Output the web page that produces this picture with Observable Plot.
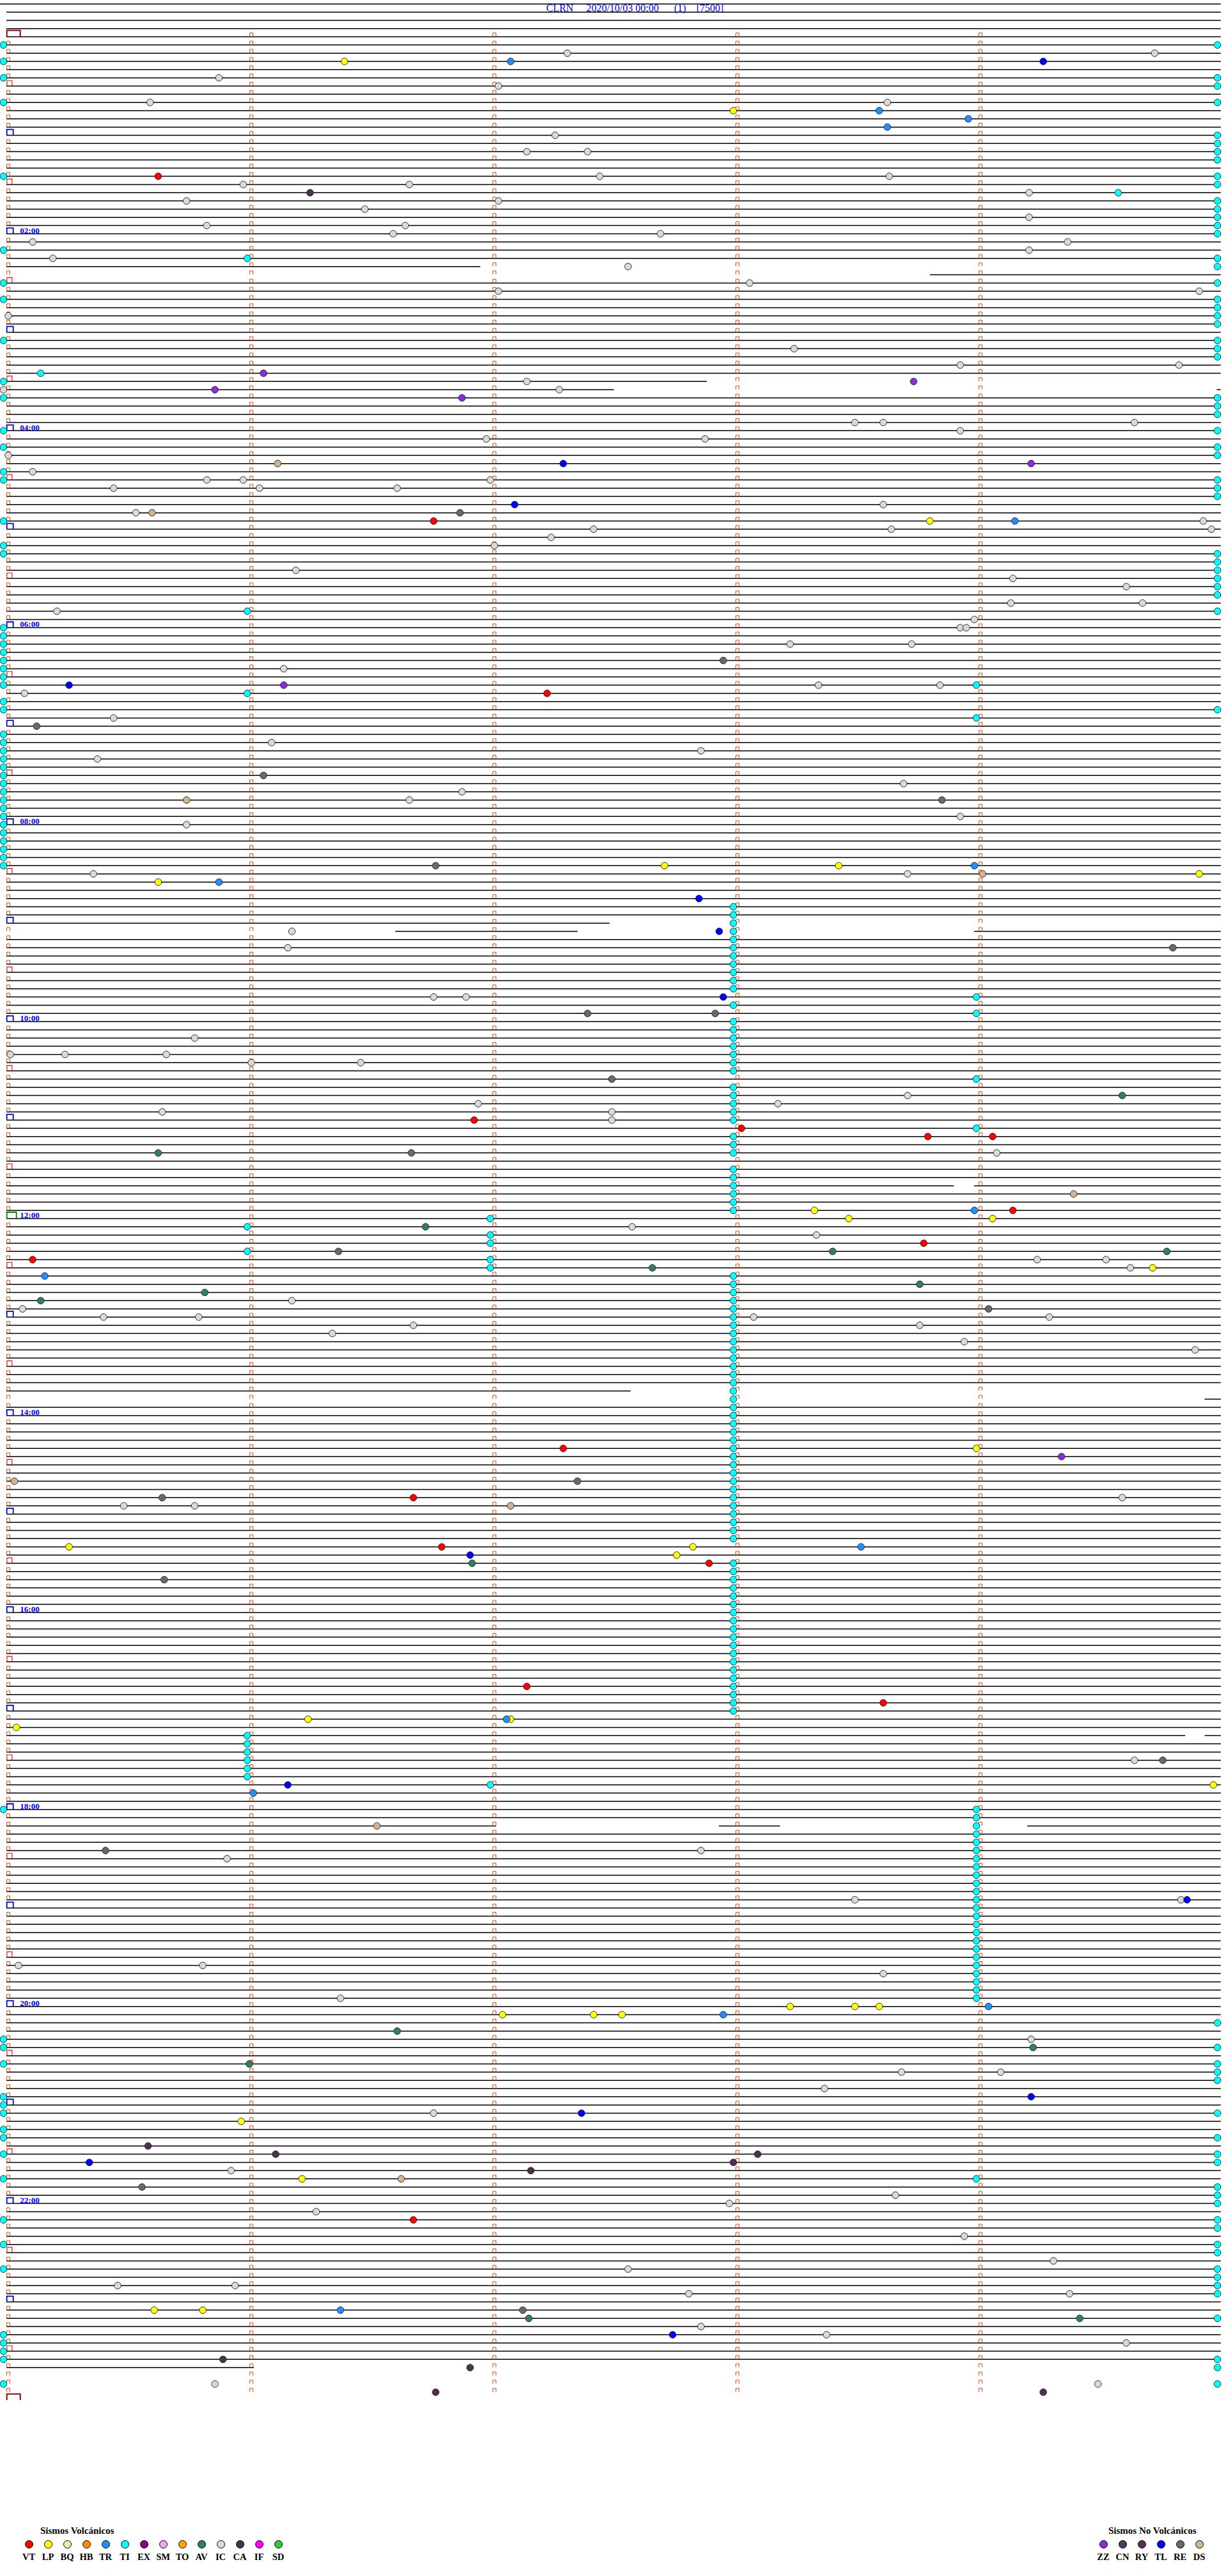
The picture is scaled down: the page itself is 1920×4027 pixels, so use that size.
<!DOCTYPE html>
<html>
<head>
<meta charset="utf-8">
<script src="https://cdn.jsdelivr.net/npm/d3@7"></script>
<script src="https://cdn.jsdelivr.net/npm/@observablehq/plot@0.6"></script>
<style>
  body { margin: 0; background: #fff; }
  #page { position: relative; width: 1920px; height: 4027px; overflow: hidden; font-family: "Liberation Serif", "Times New Roman", serif; }
  #chart { position: absolute; left: 0; top: 0; }
  #title { position: absolute; left: 854px; top: 5px; font-size: 16px; line-height: 16px; color: #0000ff; white-space: pre; }
  .lg-title { position: absolute; font-size: 15px; line-height: 15px; font-weight: bold; color: #000; white-space: pre; }
  .lg-dot { position: absolute; width: 11px; height: 11px; border: 1px solid #000; border-radius: 50%; box-sizing: content-box; }
  .lg-lab { position: absolute; width: 30px; text-align: center; font-size: 14.5px; line-height: 15px; font-weight: bold; color: #000; }
</style>
</head>
<body>
<div id="page">
  <div id="chart"></div>
  <div id="title"></div>
  <div id="legend"></div>
</div>
<script>
// ---------------- header ----------------
const stationName = "CLRN";
const startLabel = "2020/10/03 00:00";
const runLabel = "(1)";
const gainLabel = "[7500]";

// ---------------- helicorder layout data ----------------
// each trace row = 5 minutes (0..300 s); 288 rows for the day, 4 empty rows above
const minuteTicks = [0, 60, 120, 180, 240];
const hourLabels = ["02:00","04:00","06:00","08:00","10:00","12:00","14:00","16:00","18:00","20:00","22:00"];
const hourLabelRows = [24, 48, 72, 96, 120, 144, 168, 192, 216, 240, 264];

// partial traces: [row, start s, end s]
const partialTraces = [
  [28, -0.4, 116.6], [29, 227.6, 299.4], [42, -0.4, 172.5], [43, -0.4, 149.6], [43, 298.4, 299.4],
  [108, -0.4, 148.5], [109, 95.6, 140.6], [109, 238.5, 299.4], [140, -0.4, 233.5], [140, 238.5, 299.4],
  [165, -0.4, 153.7], [166, 295.4, 299.4], [207, -0.4, 290.6], [207, 295.4, 299.4],
  [218, -0.4, 120.5], [218, 175.5, 190.6], [218, 251.6, 299.4], [284, -0.4, 60.7]
];
const emptyTraces = [285, 286, 287];

// ---------------- event categories ----------------
const volcanicCodes  = ["VT","LP","BQ","HB","TR","TI","EX","SM","TO","AV","IC","CA","IF","SD"];
const volcanicColors = ["#ff0000","#ffff00","#eee8aa","#ff8c00","#1e90ff","#00ffff","#8b008b","#eeaaee","#ffa500","#2e8060","#d9d9d9","#4d3050","#ff00ff","#32cd32"];
const nonVolcanicCodes  = ["ZZ","CN","RY","TL","RE","DS"];
const nonVolcanicColors = ["#8a2be2","#4d3a5e","#553355","#0000ff","#696969","#d2b48c"];

// ---------------- events: [row, seconds into the 5-min trace] ----------------
const VT = [[17,37],[59,105],[80,133],[132,115],[133,181],[134,227],[134,243],[143,248],[147,226],[149,6],[172,137],[178,100],[184,107],[186,173],[201,128],[203,216],[266,100]];
const LP = [[3,83],[9,179],[59,227.5],[101,162],[101,205],[102,294],[103,37],[143,199],[144,207.5],[144,243],[150,282.5],[172,239],[184,15],[184,169],[185,165],[205,74],[205,124],[206,2],[213,297.5],[240,193],[240,209],[240,215],[241,122],[241,144.5],[241,151.5],[254,57.5],[261,72.5],[277,36],[277,48]];
const TR = [[3,124],[9,215],[10,237],[11,217],[59,248.5],[101,238.5],[103,52],[143,238.5],[151,9],[184,210.5],[205,123],[214,60.5],[240,242],[241,176.5],[277,82]];
// TI (cyan) rows grouped by position in the trace
const tiAtStartRows = [1,3,5,8,17,26,30,32,37,42,44,48,50,53,54,59,62,63,72,73,74,75,76,77,78,79,81,82,85,86,87,88,89,90,91,92,93,94,95,96,97,98,99,100,101,216,244,245,247,251,252,253,255,256,258,261,266,269,272,280,281,282,283,286];
const tiAtEndRows = [1,5,6,8,12,13,14,15,17,18,20,21,22,23,24,27,28,30,32,33,34,35,37,38,39,44,45,46,48,50,51,54,55,56,63,64,65,66,67,68,70,82,242,245,247,248,249,253,256,258,259,262,263,264,266,267,269,270,272,273,274,275,278,283,284,286];
const tiAt59Rows = [27,70,80,145,148,207,208,209,210,211,212];
const tiAt119Rows = [144,146,147,149,150,213];
const tiAt179Rows = [106,107,108,109,110,111,112,113,114,115,116,118,120,121,122,123,124,125,126,128,129,130,131,132,134,135,136,138,139,140,141,142,143,151,152,153,154,155,156,157,158,159,160,161,162,163,164,165,166,167,168,169,170,171,172,173,174,175,176,177,178,179,180,181,182,183,186,187,188,189,190,191,192,193,194,195,196,197,198,199,200,201,202,203,204];
const tiAt239Rows = [79,83,117,119,127,133,216,217,218,219,220,221,222,223,224,225,226,227,228,229,230,231,232,233,234,235,236,237,238,239,261];
const TI_other = [[19,274],[41,8]];
const AV = [[129,275],[136,37],[145,103],[148,203.5],[148,286],[150,159],[152,225],[153,48.5],[154,8],[186,114.5],[243,96],[245,253],[247,59.5],[278,128.5],[278,264.5]];
const IC = [[2,138],[2,283],[5,52],[6,121],[8,35],[8,217],[12,135],[14,128],[14,143],[17,146],[17,217.5],[18,58],[18,99],[19,252],[20,44],[20,121],[21,88],[22,252],[23,49],[23,98],[24,95],[24,161],[25,6],[25,261.5],[26,252],[27,11],[28,153],[30,183],[31,121],[31,294],[34,0],[38,194],[40,235],[40,289],[42,128],[43,-1.2],[43,136],[47,209],[47,216],[47,278],[48,235],[49,118],[49,172],[51,0],[53,6],[54,49],[54,58],[54,119],[55,26],[55,62],[55,96],[57,216],[58,31.5],[59,295],[60,144.5],[60,218],[60,297],[61,134],[62,120],[65,71],[66,248],[67,276],[69,247.5],[69,280],[70,12],[71,238.5],[72,235],[72,236.5],[74,193],[74,223],[77,68],[79,200],[79,230],[80,4],[83,26],[86,65],[87,171],[88,22],[91,221],[92,112],[93,99],[95,235],[96,44],[102,21],[102,222],[109,70],[111,69],[117,105],[117,113],[122,46],[124,0.5],[124,14],[124,39],[125,60],[125,87],[129,222],[130,116],[130,190],[131,38],[131,149],[132,149],[136,244],[145,154],[146,199.5],[149,254],[149,271],[150,277],[154,70],[155,3.5],[156,23.5],[156,47],[156,184],[156,257],[157,100],[157,225],[158,80],[159,236],[160,293],[178,275],[179,28.5],[179,46],[210,278],[221,171],[222,54],[227,209],[227,289.5],[235,2.5],[235,48],[236,216],[239,82],[244,252.5],[248,220.5],[248,245],[250,201.5],[253,105],[260,55],[263,219],[264,178],[265,76],[268,236],[271,258],[272,153],[274,27],[274,56],[275,168],[275,262],[279,171],[280,202],[281,276],[286,51],[286,269]];
const CA = [[19,74.5],[257,34.5],[258,66],[258,185],[259,179],[260,129],[283,53],[284,114],[287,105.5],[287,255.5]];
const ZZ = [[41,63],[42,223.5],[43,51],[44,112],[52,252.5],[79,68],[173,260]];
const TL = [[3,255.5],[52,137],[57,125],[79,15],[105,170.5],[109,175.5],[117,176.5],[185,114],[213,69],[227,291],[251,252.5],[253,141.5],[259,20],[280,164]];
const RE = [[58,111.5],[76,176.5],[84,7],[90,63],[93,230.5],[101,105.5],[111,287.5],[119,143],[119,174.5],[127,149],[136,99.5],[148,81.5],[155,242],[176,140.5],[178,38],[188,38.5],[210,285],[221,24],[262,33],[277,127]];
const DS = [[52,66.5],[58,35.5],[93,44],[102,240.5],[141,263],[176,1.5],[179,124],[218,91],[261,97]];

// ---------------- build tables ----------------
const colorOf = {};
volcanicCodes.forEach((c, i) => colorOf[c] = volcanicColors[i]);
nonVolcanicCodes.forEach((c, i) => colorOf[c] = nonVolcanicColors[i]);

const TI = [
  ...tiAtStartRows.map(r => [r, -1.2]),
  ...tiAtEndRows.map(r => [r, 298.5]),
  ...tiAt59Rows.map(r => [r, 59]),
  ...tiAt119Rows.map(r => [r, 119]),
  ...tiAt179Rows.map(r => [r, 179]),
  ...tiAt239Rows.map(r => [r, 239]),
  ...TI_other
];
const eventGroups = [["VT",VT],["LP",LP],["TI",TI],["IC",IC],["TR",TR],["AV",AV],["CA",CA],["ZZ",ZZ],["TL",TL],["RE",RE],["DS",DS]];
const events = [];
eventGroups.forEach(([code, list]) => list.forEach(([row, sec]) => events.push({row, sec, code, color: colorOf[code]})));

const traceStart = -0.4, traceEnd = 299.4, firstLineStart = -2;
const partialRows = new Set(partialTraces.map(d => d[0]));
const segs = [];
for (let r = -4; r < 288; r++) {
  if (partialRows.has(r) || emptyTraces.includes(r)) continue;
  segs.push({row: r, a: r === -4 ? firstLineStart : traceStart, b: traceEnd});
}
partialTraces.forEach(([row, a, b]) => segs.push({row, a, b}));

const tickData = [];
for (let r = 0; r < 288; r++) for (const m of minuteTicks) {
  if (m === 0 && r % 6 === 0) continue;
  tickData.push({row: r, sec: m});
}
const markerData = [];
for (let r = 0; r <= 288; r += 6) {
  const kind = (r === 0 || r === 288) ? "day" : r === 144 ? "noon" : r % 12 === 0 ? "hour" : "half";
  markerData.push({row: r, sec: traceStart, kind});
}
const labelData = hourLabelRows.map((row, i) => ({row, sec: 2.9, label: hourLabels[i]}));

// open "⊓" shaped marker symbols
function openBox(w, h, x0) {
  return { draw(ctx) { ctx.moveTo(x0, -0.5); ctx.lineTo(x0, -h); ctx.lineTo(x0 + w, -h); ctx.lineTo(x0 + w, -0.5); } };
}

const chart = Plot.plot({
  width: 1920,
  height: 3790,
  margin: 0,
  x: {domain: [0, 300], range: [12.5, 1912.5], axis: null},
  y: {domain: [0, 288], range: [57, 3752], axis: null},
  color: {type: "identity"},
  style: {background: "#fff", overflow: "visible"},
  marks: [
    Plot.ruleY(segs, {y: "row", x1: "a", x2: "b", stroke: "#000", strokeWidth: 1.5}),
    Plot.dot(tickData, {x: "sec", y: "row", symbol: openBox(5, 6, -2.5), fill: "none", stroke: "#ff4500", strokeWidth: 1}),
    Plot.dot(markerData.filter(d => d.kind === "half"), {x: "sec", y: "row", symbol: openBox(8, 8.5, 0.4), fill: "none", stroke: "#ee1111", strokeWidth: 1.2}),
    Plot.dot(markerData.filter(d => d.kind === "hour"), {x: "sec", y: "row", symbol: openBox(10, 9, 0.2), fill: "none", stroke: "#0000ee", strokeWidth: 1.8}),
    Plot.dot(markerData.filter(d => d.kind === "noon"), {x: "sec", y: "row", symbol: openBox(15, 10, 0.2), fill: "none", stroke: "#008000", strokeWidth: 1.8}),
    Plot.dot(markerData.filter(d => d.kind === "day"), {x: "sec", y: "row", symbol: openBox(21, 10, 0.2), fill: "none", stroke: "#990000", strokeWidth: 2}),
    Plot.text(labelData, {x: "sec", y: "row", text: "label", dy: -5, textAnchor: "start", fill: "#0000ff", fontSize: 13, fontWeight: "bold", fontFamily: "Liberation Serif"}),
    Plot.dot(events, {x: "sec", y: "row", r: 5.3, fill: "color", stroke: "#222", strokeWidth: 0.9})
  ]
});
document.getElementById("chart").appendChild(chart);

// ---------------- title ----------------
document.getElementById("title").textContent = stationName + "     " + startLabel + "      " + runLabel + "    " + gainLabel;

// ---------------- legend ----------------
const legend = document.getElementById("legend");
function addLegend(title, titleLeft, codes, colors, firstCenter) {
  const t = document.createElement("div");
  t.className = "lg-title"; t.textContent = title;
  t.style.left = titleLeft + "px"; t.style.top = "3949px";
  legend.appendChild(t);
  codes.forEach((c, i) => {
    const cx = firstCenter + 30 * i;
    const d = document.createElement("div");
    d.className = "lg-dot"; d.style.background = colors[i];
    d.style.left = (cx - 6.5) + "px"; d.style.top = "3970.5px";
    legend.appendChild(d);
    const l = document.createElement("div");
    l.className = "lg-lab"; l.textContent = c;
    l.style.left = (cx - 15) + "px"; l.style.top = "3989.5px";
    legend.appendChild(l);
  });
}
addLegend("Sismos Volcánicos", 63, volcanicCodes, volcanicColors, 45);
addLegend("Sismos No Volcánicos", 1733, nonVolcanicCodes, nonVolcanicColors, 1725);
</script>
</body>
</html>
